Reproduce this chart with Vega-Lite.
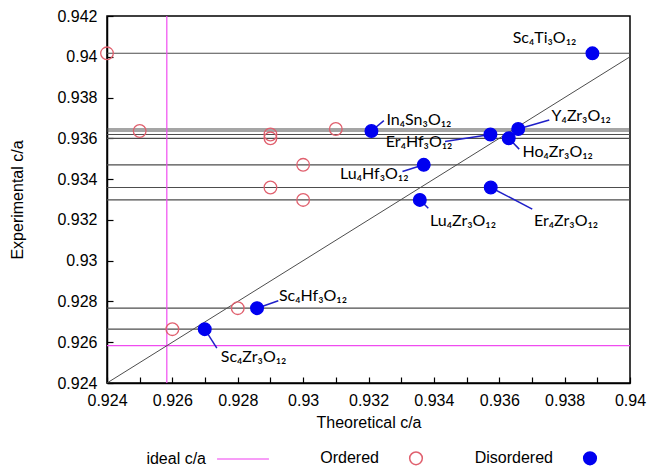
{
  "$schema": "https://vega.github.io/schema/vega-lite/v6.json",
  "width": 523,
  "height": 367,
  "autosize": "none",
  "padding": {"left": 107, "top": 16, "right": 18, "bottom": 85},
  "background": "white",
  "datasets": {
    "compounds": [
      {"name": "Sc₄Ti₃O₁₂", "exp": 0.94017, "Ordered": 0.924, "Disordered": 0.93885, "tx": 0.93641, "ty": 0.94066},
      {"name": "In₄Sn₃O₁₂", "exp": 0.93636, "Ordered": 0.925, "Disordered": 0.93209, "tx": 0.93255, "ty": 0.93666, "lx": 0.93247, "ly": 0.93687},
      {"name": "Y₄Zr₃O₁₂", "exp": 0.93646, "Ordered": 0.931, "Disordered": 0.93658, "tx": 0.9376, "ty": 0.93687, "lx": 0.93753, "ly": 0.9369},
      {"name": "Er₄Hf₃O₁₂", "exp": 0.93619, "Ordered": 0.929, "Disordered": 0.93573, "tx": 0.93253, "ty": 0.93559, "lx": 0.93434, "ly": 0.93584},
      {"name": "Ho₄Zr₃O₁₂", "exp": 0.936, "Ordered": 0.929, "Disordered": 0.93629, "tx": 0.93671, "ty": 0.93507, "lx": 0.93661, "ly": 0.93547},
      {"name": "Lu₄Hf₃O₁₂", "exp": 0.9347, "Ordered": 0.93, "Disordered": 0.93369, "tx": 0.93113, "ty": 0.934, "lx": 0.93304, "ly": 0.93437},
      {"name": "Er₄Zr₃O₁₂", "exp": 0.93359, "Ordered": 0.929, "Disordered": 0.93574, "tx": 0.93706, "ty": 0.93171, "lx": 0.93701, "ly": 0.93253},
      {"name": "Lu₄Zr₃O₁₂", "exp": 0.93298, "Ordered": 0.93, "Disordered": 0.93357, "tx": 0.93388, "ty": 0.93171, "lx": 0.93383, "ly": 0.93257},
      {"name": "Sc₄Hf₃O₁₂", "exp": 0.92767, "Ordered": 0.928, "Disordered": 0.92859, "tx": 0.92926, "ty": 0.92804, "lx": 0.92924, "ly": 0.92803},
      {"name": "Sc₄Zr₃O₁₂", "exp": 0.92664, "Ordered": 0.926, "Disordered": 0.92699, "tx": 0.92748, "ty": 0.92505, "lx": 0.92736, "ly": 0.92571}
    ],
    "ideal": [{"v": 0.92583}],
    "diag": [{"a": 0.924, "b": 0.94}]
  },
  "layer": [
    {
      "data": {"name": "compounds"},
      "mark": {"type": "rule", "color": "#4d4d4d", "strokeWidth": 1.1},
      "encoding": {
        "y": {"field": "exp", "type": "quantitative", "scale": {"domain": [0.924, 0.942], "zero": false, "nice": false}}
      }
    },
    {
      "data": {"name": "ideal"},
      "mark": {"type": "rule", "color": "#f04cf0", "strokeWidth": 1.2},
      "encoding": {
        "y": {"field": "v", "type": "quantitative", "scale": {"domain": [0.924, 0.942], "zero": false, "nice": false}}
      }
    },
    {
      "data": {"name": "ideal"},
      "mark": {"type": "rule", "color": "#f04cf0", "strokeWidth": 1.2},
      "encoding": {
        "x": {"field": "v", "type": "quantitative", "scale": {"domain": [0.924, 0.94], "zero": false, "nice": false}}
      }
    },
    {
      "data": {"name": "diag"},
      "mark": {"type": "rule", "color": "#4d4d4d", "strokeWidth": 1},
      "encoding": {
        "x": {"field": "a", "type": "quantitative", "scale": {"domain": [0.924, 0.94], "zero": false, "nice": false}},
        "y": {"field": "a", "type": "quantitative", "scale": {"domain": [0.924, 0.942], "zero": false, "nice": false}},
        "x2": {"field": "b"},
        "y2": {"field": "b"}
      }
    },
    {
      "data": {"name": "compounds"},
      "transform": [{"filter": "isValid(datum.lx)"}],
      "mark": {"type": "rule", "color": "#1f1fc8", "strokeWidth": 1.5},
      "encoding": {
        "x": {"field": "Disordered", "type": "quantitative", "scale": {"domain": [0.924, 0.94], "zero": false, "nice": false}},
        "y": {"field": "exp", "type": "quantitative", "scale": {"domain": [0.924, 0.942], "zero": false, "nice": false}},
        "x2": {"field": "lx"},
        "y2": {"field": "ly"}
      }
    },
    {
      "data": {"name": "compounds"},
      "transform": [{"fold": ["Ordered", "Disordered"], "as": ["key", "theo"]}],
      "mark": {"type": "point", "opacity": 1, "strokeWidth": 1.3, "size": 160},
      "encoding": {
        "x": {"field": "theo", "type": "quantitative", "title": "Theoretical c/a", "scale": {"domain": [0.924, 0.94], "zero": false, "nice": false}},
        "y": {"field": "exp", "type": "quantitative", "title": "Experimental c/a", "scale": {"domain": [0.924, 0.942], "zero": false, "nice": false}},
        "shape": {"field": "key", "type": "nominal", "title": null, "scale": {"domain": ["ideal c/a", "Ordered", "Disordered"], "range": ["M-4.1,0L4.1,0", "circle", "circle"]}},
        "stroke": {"field": "key", "type": "nominal", "title": null, "scale": {"domain": ["ideal c/a", "Ordered", "Disordered"], "range": ["#f47cf4", "#e0606e", "#0000f0"]}},
        "fill": {"field": "key", "type": "nominal", "title": null, "scale": {"domain": ["ideal c/a", "Ordered", "Disordered"], "range": ["transparent", "transparent", "#0000f0"]}}
      }
    },
    {
      "data": {"name": "compounds"},
      "mark": {"type": "text", "align": "left", "baseline": "alphabetic", "font": "Lato", "fontSize": 16, "color": "black"},
      "encoding": {
        "x": {"field": "tx", "type": "quantitative", "scale": {"domain": [0.924, 0.94], "zero": false, "nice": false}},
        "y": {"field": "ty", "type": "quantitative", "scale": {"domain": [0.924, 0.942], "zero": false, "nice": false}},
        "text": {"field": "name"}
      }
    }
  ],
  "config": {
    "view": {"stroke": "black", "strokeWidth": 1.5},
    "axis": {
      "grid": false,
      "labelFont": "Liberation Sans",
      "labelFontSize": 16,
      "labelColor": "black",
      "labelFlush": false,
      "titleFont": "Liberation Sans",
      "titleFontSize": 16,
      "titleFontWeight": "normal",
      "titleColor": "black",
      "domainColor": "black",
      "domainWidth": 1.5,
      "tickColor": "black",
      "tickWidth": 1.2,
      "tickSize": -6,
      "format": ".3~f"
    },
    "axisX": {"values": [0.924, 0.926, 0.928, 0.93, 0.932, 0.934, 0.936, 0.938, 0.94], "labelPadding": 15, "titlePadding": 6},
    "axisY": {"values": [0.924, 0.926, 0.928, 0.93, 0.932, 0.934, 0.936, 0.938, 0.94, 0.942], "labelPadding": 16, "titlePadding": 31},
    "legend": {
      "orient": "none",
      "legendX": 128,
      "legendY": 434,
      "direction": "horizontal",
      "labelFont": "Liberation Sans",
      "labelFontSize": 16,
      "labelColor": "black",
      "labelAlign": "right",
      "labelOffset": -45,
      "columnPadding": 48,
      "symbolSize": 160,
      "symbolStrokeWidth": 1.5
    }
  }
}
